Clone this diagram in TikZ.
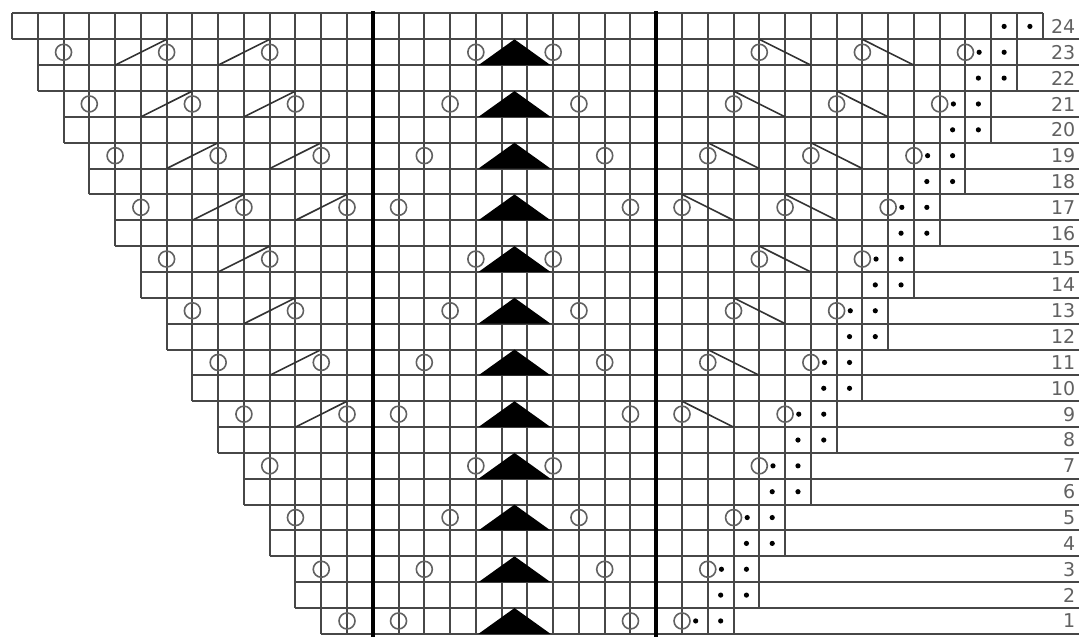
\documentclass[tikz,border=0pt]{standalone}
\usepackage{fontspec}
\setmainfont{DejaVu Sans}
\begin{document}
\begin{tikzpicture}[x=25.77pt,y=25.85pt,
  gridline/.style={line width=2pt, draw=black!72},
  boldline/.style={line width=4.2pt, draw=black},
  yo/.style={draw=black!62, line width=1.6pt},
  slantline/.style={line width=1.6pt, draw=black!80},
  knitdot/.style={fill=black},
  decr/.style={fill=black},
  rownum/.style={anchor=east, text=black!62, font=\fontsize{19}{19}\selectfont, inner sep=0pt}]
\useasboundingbox (-0.4657,-0.116) rectangle (41.405,24.522);
% grid rows
\foreach \r in {1,...,24}{
  \pgfmathtruncatemacro\L{12-floor(\r/2)}
  \pgfmathtruncatemacro\R{28+floor(\r/2)}
  \draw[gridline] (\L,\r) -- (\R,\r);
  \draw[gridline] (\L,\r-1) -- (41.405,\r-1);
  \foreach \i in {\L,...,\R} \draw[gridline] (\i,\r-1) -- (\i,\r);
  \node[rownum] (n\r) at (41.27,\r-0.5) {\r};
}
% bold panel lines
\draw[boldline] (14,-0.116) -- (14,24.1);
\draw[boldline] (25,-0.116) -- (25,24.1);
% odd rows
\foreach \k in {0,...,11}{
  \pgfmathtruncatemacro\r{2*\k+1}
  \pgfmathtruncatemacro\p{mod(\k,4)}
  \pgfmathsetmacro\yc{\r-0.5}
  % centre panel
  \draw[yo] (15+\p,\yc) circle[radius=8pt];
  \draw[yo] (24-\p,\yc) circle[radius=8pt];
  \fill[decr] (18.1,\r-1) -- (19.5,\r) -- (20.9,\r-1) -- cycle;
  % left panel
  \pgfmathtruncatemacro\a{13-\k}
  \draw[yo] (\a,\yc) circle[radius=8pt];
  \foreach \m in {1,2}{
    \pgfmathtruncatemacro\b{\a+4*\m}
    \ifnum\b<14
      \draw[slantline] (\b-2,\r-1) -- (\b,\r);
      \draw[yo] (\b,\yc) circle[radius=8pt];
    \fi
  }
  % right panel
  \pgfmathtruncatemacro\f{26+\k}
  \draw[yo] (\f,\yc) circle[radius=8pt];
  \fill[knitdot] (\f+0.53,\yc) circle[radius=2.6pt];
  \fill[knitdot] (\f+1.5,\yc) circle[radius=2.6pt];
  \foreach \m in {1,2}{
    \pgfmathtruncatemacro\b{\f-4*\m}
    \ifnum\b>25
      \draw[slantline] (\b,\r) -- (\b+2,\r-1);
      \draw[yo] (\b,\yc) circle[radius=8pt];
    \fi
  }
}
% even rows
\foreach \k in {1,...,12}{
  \pgfmathtruncatemacro\r{2*\k}
  \fill[knitdot] (26.5+\k,\r-0.5) circle[radius=2.6pt];
  \fill[knitdot] (27.5+\k,\r-0.5) circle[radius=2.6pt];
}
\end{tikzpicture}
\end{document}
